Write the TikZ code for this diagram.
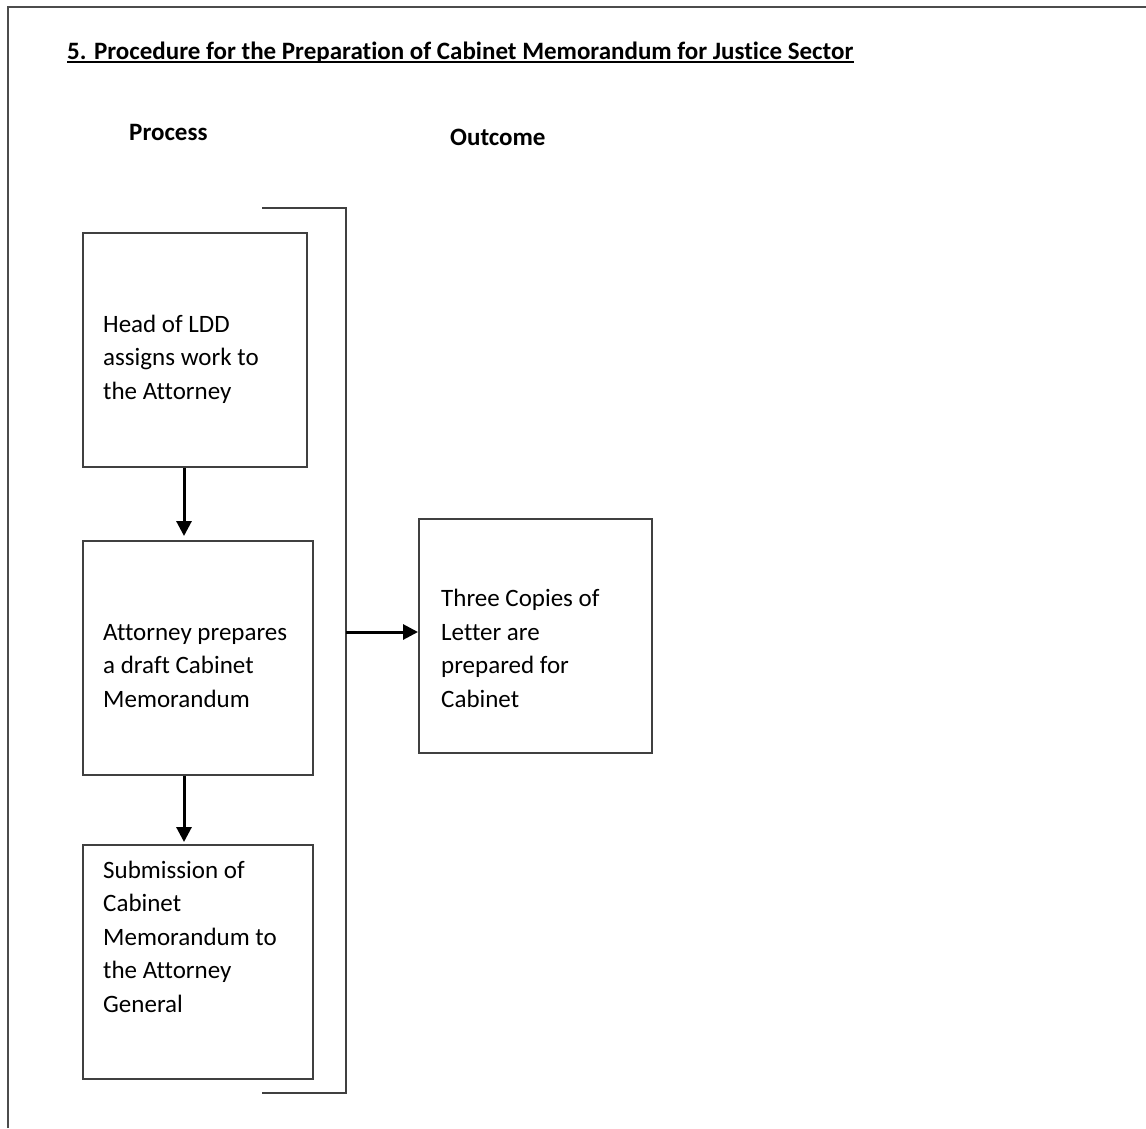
\documentclass[tikz,border=0pt]{standalone}
\usepackage{fontspec}
\setmainfont[Ligatures=NoCommon]{Carlito}
\usetikzlibrary{arrows.meta}
\begin{document}
\begin{tikzpicture}[x=1pt,y=-1pt,
  thin line/.style={draw=black!75,line width=2pt},
  stepbox/.style={thin line,rectangle,anchor=north west,inner sep=0pt},
  flowarrow/.style={draw=black,line width=3pt,-{Triangle[length=15pt,width=15pt]}},
  % multi-line text: the base anchor sits on the last line
  boxtext/.style={inner sep=0pt,anchor=base west,align=left,
    font=\fontsize{25}{33.5}\selectfont},
  heading/.style={inner sep=0pt,anchor=base west,
    font=\fontsize{25}{30}\selectfont\bfseries}]
\useasboundingbox (0,0) rectangle (1146,1128);
\fill[white] (0,0) rectangle (1146,1128);

% page frame (left and top edges)
\draw[draw=black!70,line width=2pt] (8,1128) -- (8,7) -- (1146,7);

% title and column headings
\node[heading] (title) at (67,59) {5. Procedure for the Preparation of Cabinet Memorandum for Justice Sector};
\draw[line width=2.5pt] ([yshift=-3pt]title.base west) -- ([yshift=-3pt]title.base east);
\node[heading] (process) at (129,140) {Process};
\node[heading] (outcome) at (450,145) {Outcome};

% process boxes
\node[stepbox,minimum width=224pt,minimum height=234pt] (b1) at (82,232) {};
\node[stepbox,minimum width=230pt,minimum height=234pt] (b2) at (82,540) {};
\node[stepbox,minimum width=230pt,minimum height=234pt] (b3) at (82,844) {};
\node[stepbox,minimum width=233pt,minimum height=234pt] (b4) at (418,518) {};

\node[boxtext] (t1) at (103,399) {Head of LDD\\assigns work to\\the Attorney};
\node[boxtext] (t2) at (103,707) {Attorney prepares\\a draft Cabinet\\Memorandum};
\node[boxtext] (t3) at (103,1012) {Submission of\\Cabinet\\Memorandum to\\the Attorney\\General};
\node[boxtext] (t4) at (441,707) {Three Copies of\\Letter are\\prepared for\\Cabinet};

% bracket grouping the process steps
\coordinate (brtop) at (262,208);
\coordinate (brbot) at (262,1093);
\coordinate (brmid) at (346,632);
\draw[thin line] (brtop) -- (brtop -| brmid) -- (brbot -| brmid) -- (brbot);

% connectors
\coordinate (axis) at (184,0);
\draw[flowarrow] (b1.south -| axis) -- ([yshift=4pt]b2.north -| axis);
\draw[flowarrow] (b2.south -| axis) -- ([yshift=2pt]b3.north -| axis);
\draw[flowarrow] (brmid) -- (brmid -| b4.west);
\end{tikzpicture}
\end{document}
